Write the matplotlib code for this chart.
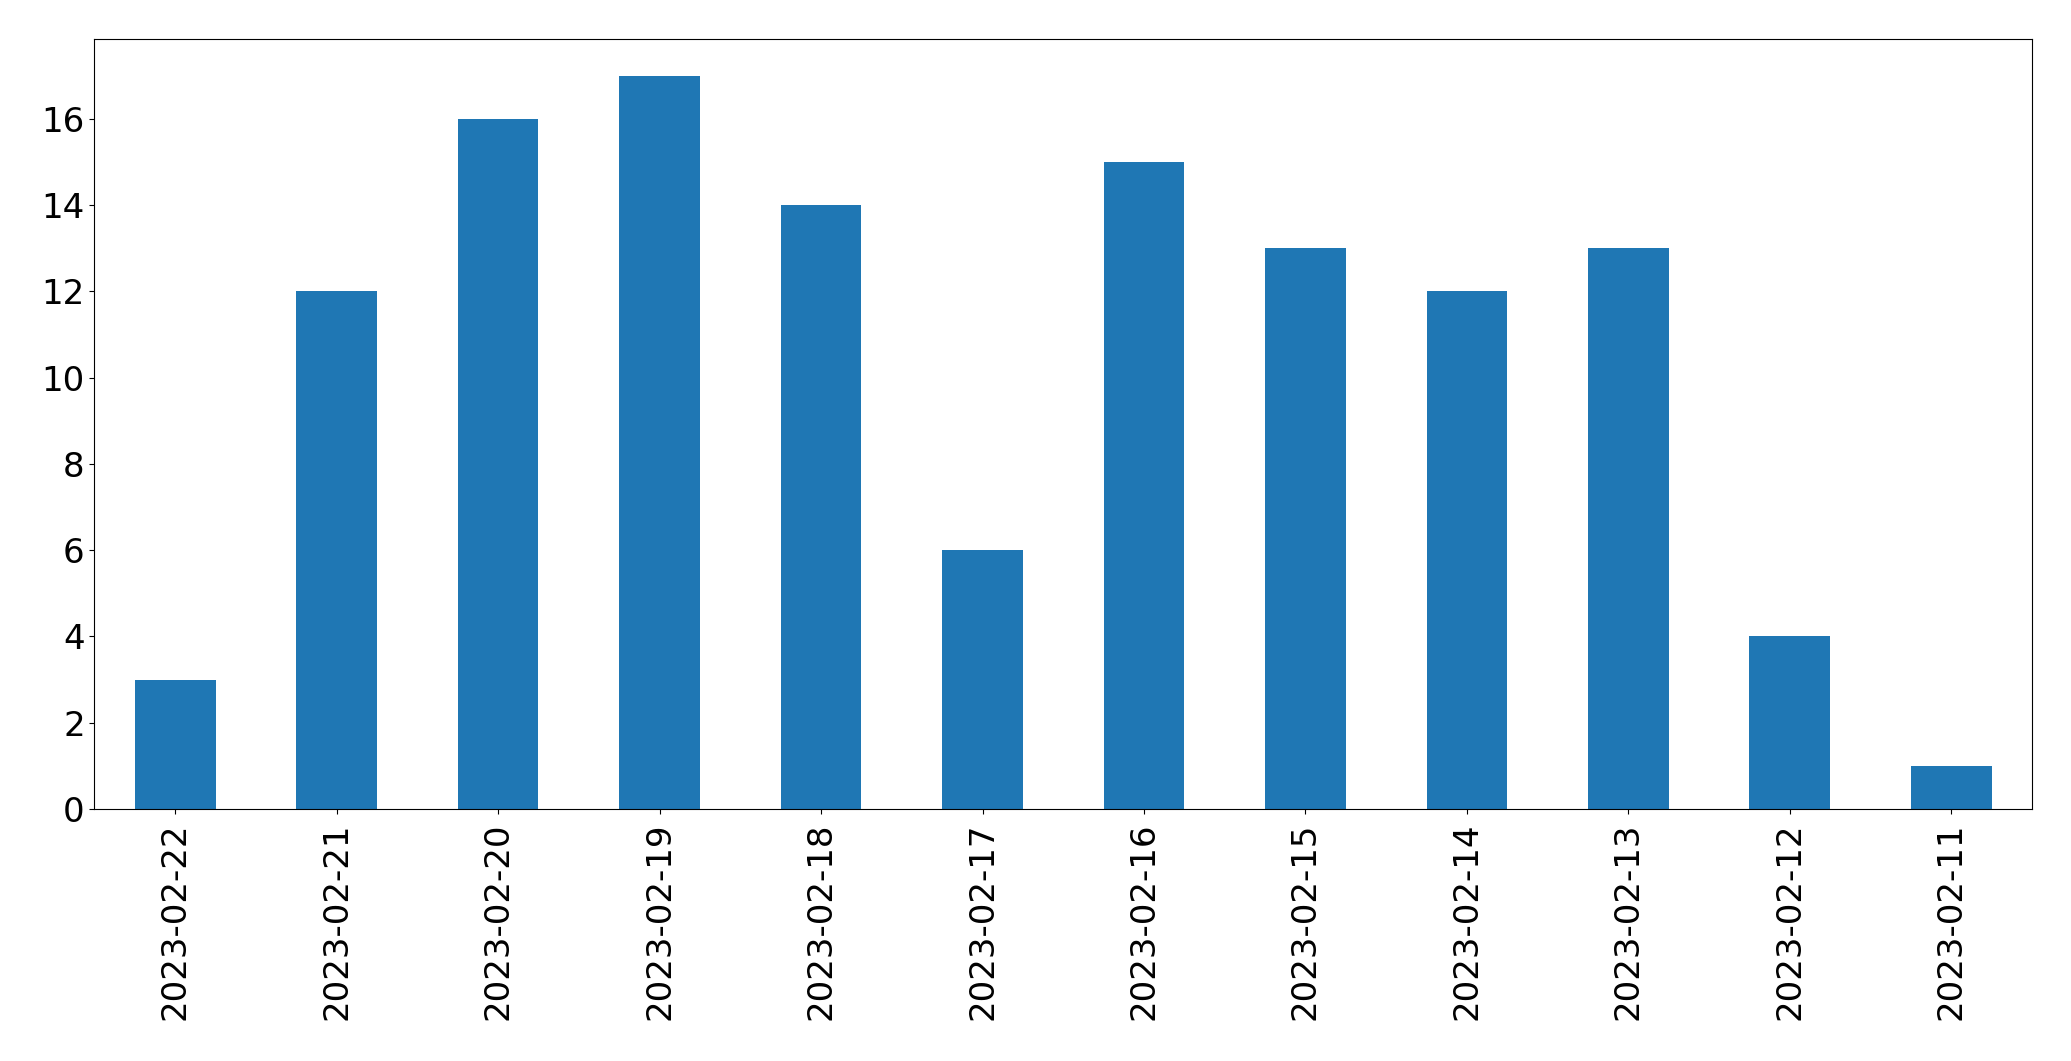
import matplotlib
matplotlib.use("Agg")
import matplotlib.pyplot as plt
import pandas as pd

dates = ["2023-02-22", "2023-02-21", "2023-02-20", "2023-02-19", "2023-02-18", "2023-02-17",
         "2023-02-16", "2023-02-15", "2023-02-14", "2023-02-13", "2023-02-12", "2023-02-11"]
counts = [3, 12, 16, 17, 14, 6, 15, 13, 12, 13, 4, 1]

plt.rcParams['font.size'] = 24.5
fig = plt.figure(figsize=(20.71, 10.61), dpi=100)
ax = fig.add_axes([0.0456, 0.2375, 0.9812 - 0.0456, 0.9632 - 0.2375])
s = pd.Series(counts, index=dates)
s.plot(kind="bar", ax=ax, color="#1f77b4")
ax.tick_params(axis='both', labelsize=24.5)
ax.tick_params(axis='x', pad=6)
fig.savefig("out.png", dpi=100)
